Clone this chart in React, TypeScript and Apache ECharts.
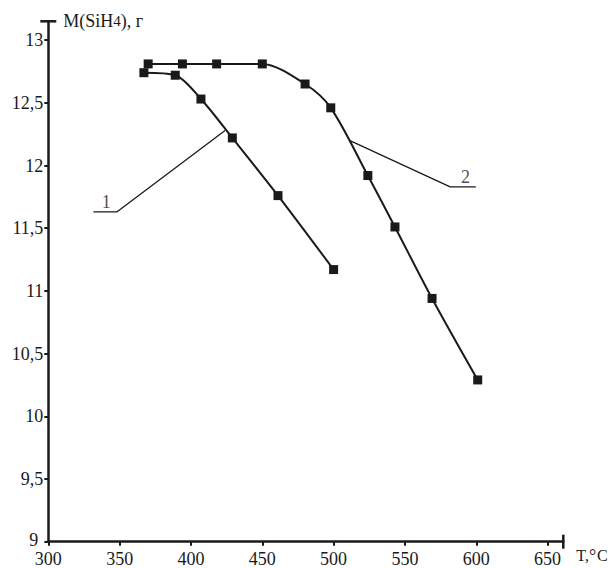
import React, { useEffect, useRef } from "react";
import * as echarts from "echarts";

const xTicks = [300, 350, 400, 450, 500, 550, 600, 650];
const yTicks = [9, 9.5, 10, 10.5, 11, 11.5, 12, 12.5, 13];
const series1 = [[367, 12.74], [389, 12.72], [407, 12.53], [429, 12.22], [461, 11.76], [500, 11.17]];
const series2 = [[370, 12.81], [394, 12.81], [418, 12.81], [450, 12.81], [480, 12.65], [498, 12.46], [524, 11.92], [543, 11.51], [569, 10.94], [601, 10.29]];
const leader1 = [[331.6, 11.63], [348, 11.63], [423.9, 12.28]];
const leader2 = [[511.1, 12.2], [581.7, 11.83], [599.7, 11.83]];
const curveLabels = [[340.7, 11.63, "1"], [592.4, 11.83, "2"]];

const INK = "#1a1a1a";
const FONT = "'Liberation Serif', 'Times New Roman', serif";

export default function App() {
  const ref = useRef<HTMLDivElement>(null);
  useEffect(() => {
    document.body.style.margin = "0";
    const chart = echarts.init(ref.current!, null, { renderer: "svg" });
    chart.setOption({
      animation: false,
      backgroundColor: "#ffffff",
      textStyle: { fontFamily: FONT, color: INK },
      grid: { left: 48.3, right: 49.7, top: 21.3, bottom: 26.3, containLabel: false, outerBoundsMode: "none" },
      xAxis: {
        type: "value",
        min: 300,
        max: 661,
        interval: 50,
        splitLine: { show: false },
        axisLine: { lineStyle: { color: INK, width: 2.5 }, symbol: ["none", "rect"], symbolSize: [14, 2.5] },
        axisTick: { show: true, inside: false, length: 4, lineStyle: { color: INK, width: 2 }, customValues: xTicks },
        axisLabel: { customValues: xTicks, margin: 8, fontSize: 18, lineHeight: 18, fontFamily: FONT, color: INK },
        name: "T,{o|°}C",
        nameLocation: "end",
        nameGap: 13,
        nameTextStyle: {
          fontSize: 16,
          lineHeight: 16,
          fontFamily: FONT,
          color: INK,
          align: "left",
          verticalAlign: "top",
          padding: [6, 0, 0, 0],
          rich: { o: { fontSize: 18, lineHeight: 16, fontFamily: FONT, color: INK, padding: [0, 1, 0, 0] } },
        },
      },
      yAxis: {
        type: "value",
        min: 9,
        max: 13.15,
        interval: 0.5,
        splitLine: { show: false },
        axisLine: { lineStyle: { color: INK, width: 2.5 }, symbol: ["none", "rect"], symbolSize: [16, 2.5] },
        axisTick: { show: true, inside: false, length: 4, lineStyle: { color: INK, width: 2 }, customValues: yTicks },
        axisLabel: {
          customValues: yTicks,
          margin: 5,
          fontSize: 18,
          lineHeight: 13,
          fontFamily: FONT,
          color: INK,
          formatter: (v: number) => (v === 9 ? "{n|9}" : String(v).replace(".", ",")),
          rich: { n: { fontSize: 18, lineHeight: 13, fontFamily: FONT, color: INK, padding: [0, 5, 4, 0] } },
        },
        name: "M(SiH{s|4}), г",
        nameLocation: "end",
        nameGap: 0,
        nameTextStyle: {
          fontSize: 18,
          fontFamily: FONT,
          color: INK,
          align: "left",
          verticalAlign: "middle",
          padding: [0, 0, 0, 15],
          rich: { s: { fontSize: 15, fontFamily: FONT, color: INK } },
        },
      },
      series: [
        {
          type: "line",
          data: series1,
          smooth: 0.3,
          symbol: "rect",
          symbolSize: 9,
          lineStyle: { color: INK, width: 2 },
          itemStyle: { color: INK },
          z: 3,
        },
        {
          type: "line",
          data: series2,
          smooth: 0.3,
          symbol: "rect",
          symbolSize: 9,
          lineStyle: { color: INK, width: 2 },
          itemStyle: { color: INK },
          z: 3,
        },
        {
          type: "line",
          data: leader1,
          symbol: "none",
          lineStyle: { color: INK, width: 1.3 },
          z: 2,
        },
        {
          type: "line",
          data: leader2,
          symbol: "none",
          lineStyle: { color: INK, width: 1.3 },
          z: 2,
        },
        {
          type: "scatter",
          data: curveLabels,
          symbolSize: 0,
          itemStyle: { color: INK },
          label: {
            show: true,
            position: "top",
            distance: 1,
            formatter: (p: any) => p.value[2],
            fontSize: 18,
            fontFamily: FONT,
            color: INK,
          },
          z: 4,
        },
      ],
    });
    return () => chart.dispose();
  }, []);
  return <div ref={ref} style={{ width: 613, height: 568, position: "absolute", left: 0, top: 0 }} />;
}
